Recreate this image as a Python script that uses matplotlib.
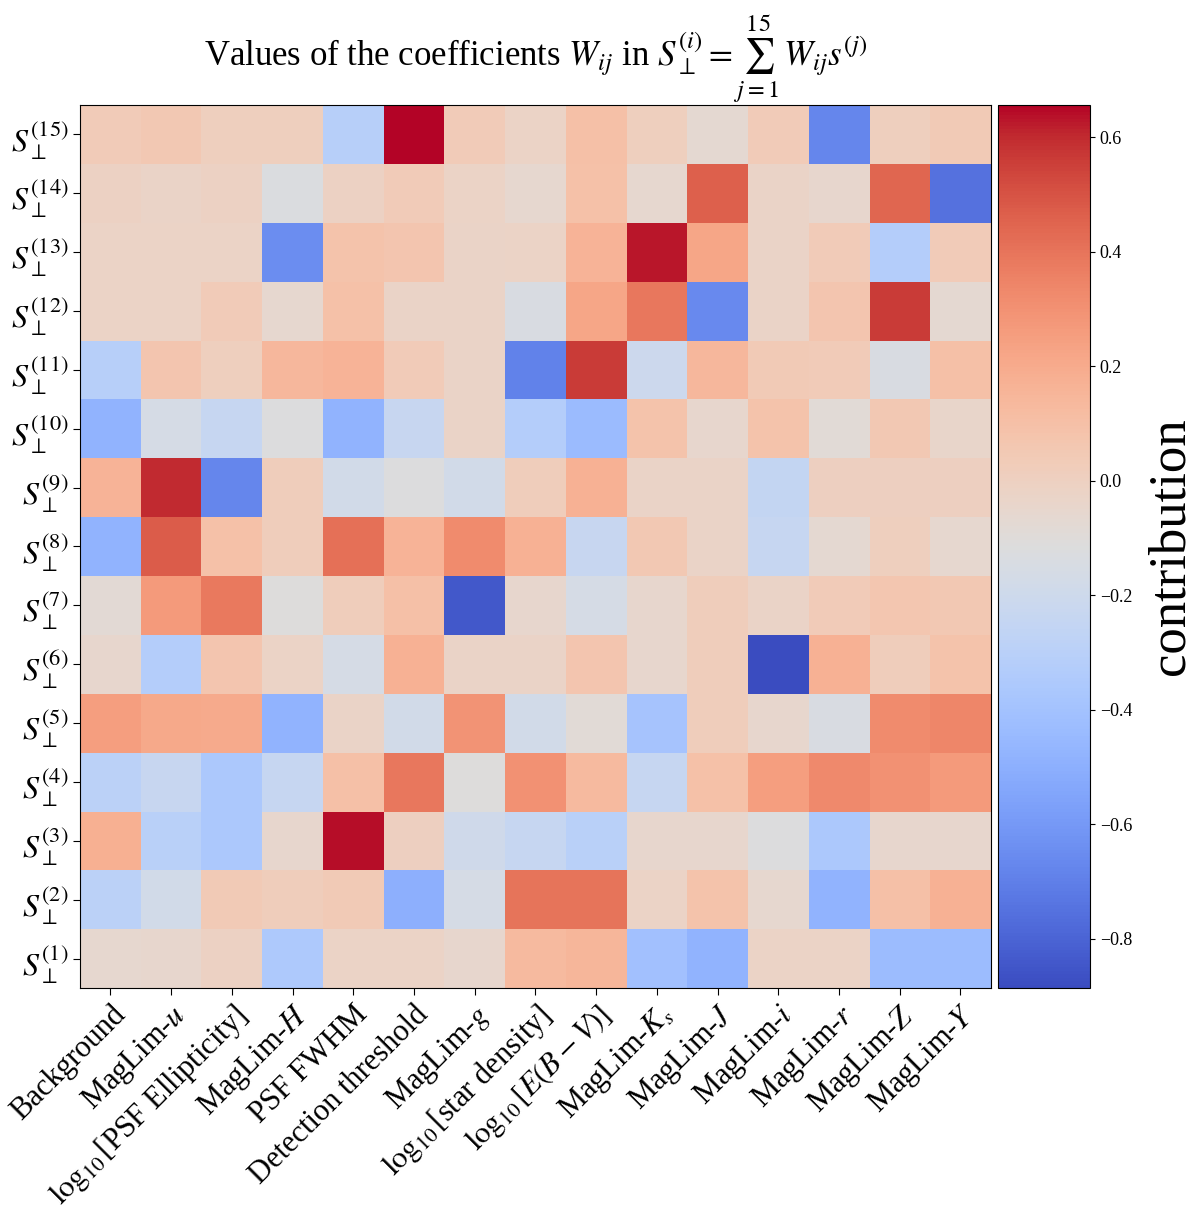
import matplotlib
matplotlib.use("Agg")
import matplotlib.pyplot as plt
import numpy as np

plt.rcParams['font.family'] = ['Liberation Serif', 'DejaVu Serif']
plt.rcParams['mathtext.fontset'] = 'stix'

# features (columns)
features = ["Background", r"MagLim-$u$", r"$\log_{10}$[PSF Ellipticity]", r"MagLim-$H$",
            "PSF FWHM", "Detection threshold", r"MagLim-$g$", r"$\log_{10}$[star density]",
            r"$\log_{10}[E(B-V)]$", r"MagLim-$K_s$", r"MagLim-$J$", r"MagLim-$i$",
            r"MagLim-$r$", r"MagLim-$Z$", r"MagLim-$Y$"]

# rows S^(1) ... S^(15)
S1 = [-0.06, -0.05, -0.01, -0.35, -0.02, -0.02, -0.05, 0.13, 0.15, -0.41, -0.48, -0.02, -0.02, -0.43, -0.43]
S2 = [-0.29, -0.18, 0.04, 0.02, 0.04, -0.50, -0.16, 0.40, 0.40, -0.02, 0.08, -0.06, -0.48, 0.10, 0.17]
S3 = [0.18, -0.30, -0.36, -0.05, 0.64, 0.00, -0.19, -0.24, -0.30, -0.05, -0.05, -0.12, -0.36, -0.05, -0.05]
S4 = [-0.29, -0.23, -0.36, -0.24, 0.10, 0.39, -0.11, 0.30, 0.13, -0.24, 0.09, 0.25, 0.33, 0.30, 0.27]
S5 = [0.25, 0.21, 0.20, -0.48, -0.03, -0.18, 0.29, -0.18, -0.09, -0.39, 0.02, -0.05, -0.14, 0.32, 0.34]
S6 = [-0.05, -0.32, 0.07, -0.02, -0.16, 0.17, -0.03, -0.03, 0.07, -0.05, 0.02, -0.886, 0.17, 0.02, 0.08]
S7 = [-0.08, 0.27, 0.38, -0.11, 0.02, 0.10, -0.84, -0.05, -0.16, -0.05, 0.02, -0.03, 0.03, 0.06, 0.05]
S8 = [-0.48, 0.47, 0.09, 0.02, 0.41, 0.16, 0.32, 0.17, -0.23, 0.05, -0.03, -0.24, -0.07, 0.01, -0.06]
S9 = [0.16, 0.60, -0.67, 0.02, -0.18, -0.12, -0.18, 0.02, 0.17, -0.03, -0.03, -0.25, 0.00, 0.00, 0.00]
S10 = [-0.48, -0.16, -0.24, -0.12, -0.48, -0.23, -0.03, -0.32, -0.44, 0.08, -0.05, 0.08, -0.09, 0.05, -0.04]
S11 = [-0.31, 0.07, 0.01, 0.14, 0.16, 0.03, -0.03, -0.69, 0.56, -0.21, 0.14, 0.04, 0.03, -0.14, 0.10]
S12 = [-0.02, -0.02, 0.03, -0.06, 0.09, -0.03, -0.03, -0.14, 0.22, 0.39, -0.66, -0.03, 0.07, 0.56, -0.07]
S13 = [-0.02, -0.02, -0.02, -0.65, 0.08, 0.07, -0.03, -0.02, 0.16, 0.63, 0.22, -0.03, 0.03, -0.32, 0.03]
S14 = [-0.01, -0.03, -0.01, -0.13, -0.01, 0.03, -0.02, -0.06, 0.09, -0.06, 0.46, -0.03, -0.05, 0.44, -0.75]
S15 = [0.03, 0.05, 0.01, 0.01, -0.31, 0.656, 0.03, -0.02, 0.10, 0.01, -0.07, 0.03, -0.67, 0.01, 0.04]

W = np.array([S1, S2, S3, S4, S5, S6, S7, S8, S9, S10, S11, S12, S13, S14, S15])
row_labels = [r"$S_\perp^{(%d)}$" % (i + 1) for i in range(15)]

fig = plt.figure(figsize=(12, 12.1), dpi=100)
ax = fig.add_axes([0.0667, 0.1835, 0.759, 0.7297])
cax = fig.add_axes([0.8317, 0.1835, 0.0767, 0.7297])

im = ax.imshow(W, cmap='coolwarm', origin='lower', aspect='auto')

ax.set_xticks(range(len(features)))
ax.set_xticklabels(features, rotation=45, ha='right', rotation_mode='anchor', fontsize=22)
ax.set_yticks(range(15))
ax.set_yticklabels(row_labels, fontsize=23)
ax.tick_params(length=5)

ax.set_title(r"Values of the coefficients $W_{ij}$ in $S_\perp^{(i)} = \sum_{j=1}^{15}\, W_{ij} s^{(j)}$",
             fontsize=25, pad=8)

cb = fig.colorbar(im, cax=cax)
cb.set_ticks([-0.8, -0.6, -0.4, -0.2, 0.0, 0.2, 0.4, 0.6])
cb.ax.tick_params(labelsize=13)
cb.set_label("contribution", fontsize=38, labelpad=10)

fig.savefig("out.png", dpi=100)
